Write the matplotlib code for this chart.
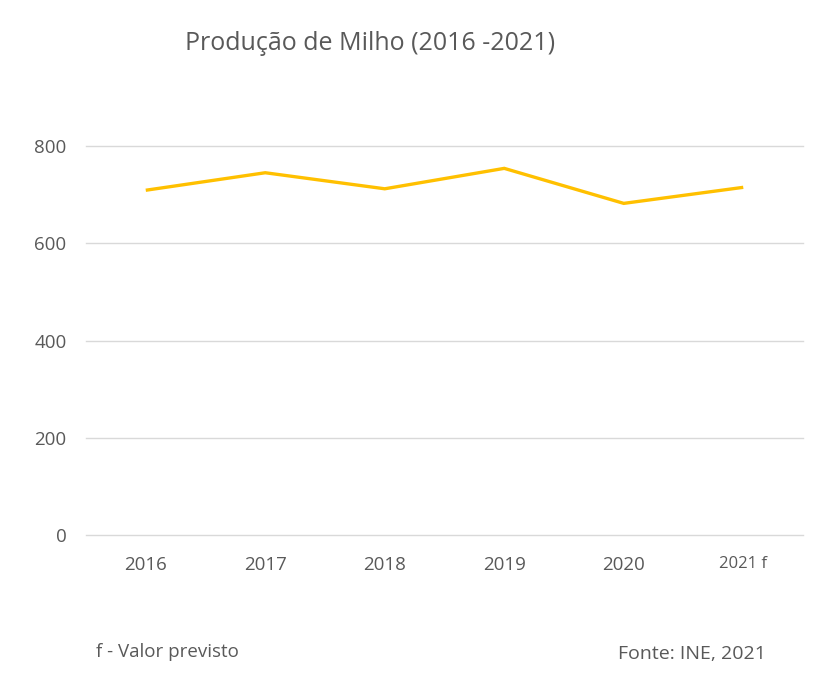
import matplotlib
matplotlib.use("Agg")
import matplotlib.pyplot as plt

categories = ["2016", "2017", "2018", "2019", "2020", "2021 f"]
production = [709, 745, 712, 754, 682, 715]
y_ticks = [0, 200, 400, 600, 800]

title = "Produção de Milho (2016 -2021)"
note_left = "f - Valor previsto"
note_right = "Fonte: INE, 2021"

TXT = "#595959"
plt.rcParams["font.family"] = ["Open Sans", "DejaVu Sans"]

fig = plt.figure(figsize=(8.25, 6.91), dpi=100)
W, H = 825, 691
ax = fig.add_axes([86 / W, (H - 535) / H, (803 - 86) / W, (535 - 146) / H])

x = list(range(len(categories)))
ax.plot(x, production, color="#FFC000", lw=2.4, solid_joinstyle="miter", solid_capstyle="butt", zorder=3)

ax.set_xlim(-0.5, len(categories) - 0.5)
ax.set_ylim(0, 800)
ax.set_yticks(y_ticks)
ax.set_yticklabels([str(v) for v in y_ticks], fontsize=13.5, color=TXT)
ax.set_xticks(x)
ax.set_xticklabels(categories, fontsize=13.5, color=TXT)
ax.get_xticklabels()[-1].set_fontsize(12)
ax.tick_params(axis="y", length=0, pad=14)
ax.tick_params(axis="x", length=0, pad=15)
ax.grid(axis="y", color="#D9D9D9", lw=1.0)
for gl in ax.get_ygridlines():
    gl.set_clip_on(False)
ax.set_axisbelow(True)
for s in ax.spines.values():
    s.set_visible(False)

fig.text(370 / W, 1 - 44 / H, title, ha="center", va="center", fontsize=18, color=TXT)
fig.text(96 / W, 1 - 652 / H, note_left, ha="left", va="center", fontsize=13.5, color=TXT)
fig.text(766 / W, 1 - 654 / H, note_right, ha="right", va="center", fontsize=14, color=TXT)

fig.savefig("out.png", dpi=100)
